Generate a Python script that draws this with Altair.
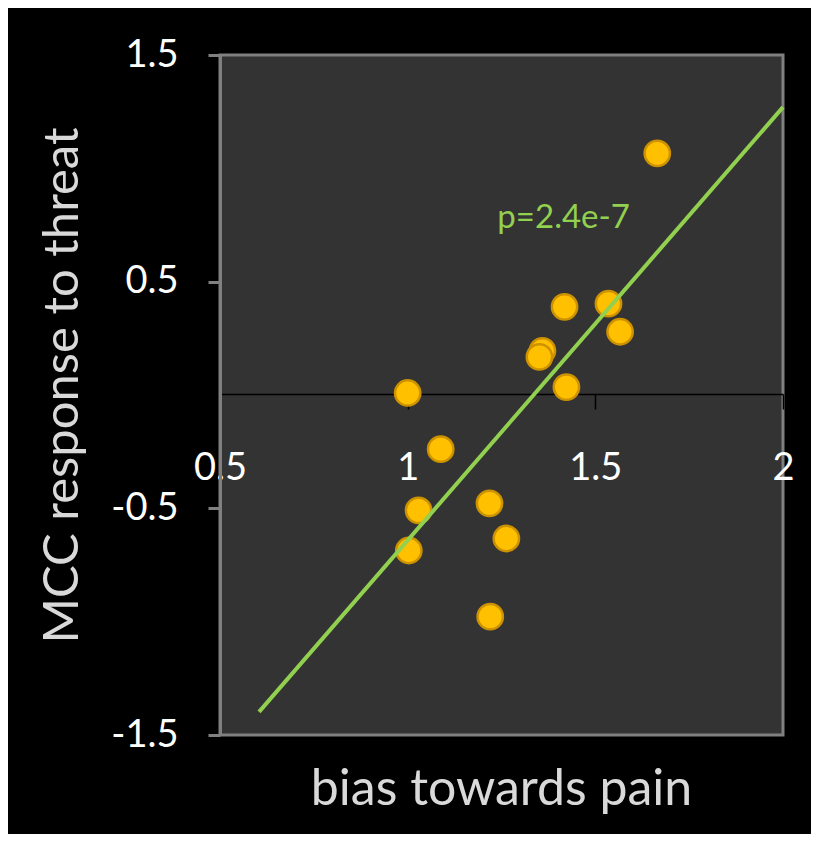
import altair as alt
import pandas as pd

# data
bias = [1.665, 1.535, 1.418, 1.566, 1.359, 1.351, 1.423, 1.000, 1.088, 1.029, 1.003, 1.218, 1.263, 1.220]
mcc = [1.066, 0.403, 0.389, 0.279, 0.195, 0.168, 0.035, 0.009, -0.239, -0.509, -0.686, -0.478, -0.633, -0.978]

fit_x = [0.604, 2.0]
fit_y = [-1.398, 1.27]

note_x = [1.239]
note_y = [0.779]
note_text = ["p=2.4e-7"]

x_ticks = [0.5, 1, 1.5, 2]
y_ticks = [-1.5, -0.5, 0.5, 1.5]

pts = pd.DataFrame({"x": bias, "y": mcc})
fit = pd.DataFrame({"x": fit_x, "y": fit_y})
note = pd.DataFrame({"x": note_x, "y": note_y, "label": note_text})

FONT = "Lato"

X = alt.X(
    "x:Q",
    scale=alt.Scale(domain=[0.5, 2], nice=False, zero=False),
    axis=alt.Axis(
        values=x_ticks,
        labelExpr="datum.value + ''",
        offset=-341,
        grid=False,
        labelFont=FONT,
        labelFontSize=38,
        labelColor="#ffffff",
        labelPadding=40,
        labelFlush=False,
        labelOverlap=False,
        tickSize=15,
        tickColor="#000000",
        tickWidth=1.5,
        domainColor="#000000",
        domainWidth=1.5,
        title="bias towards pain",
        titleFont=FONT,
        titleFontSize=50,
        titleFontWeight="normal",
        titleColor="#d9d9d9",
        titleX=281,
        titleY=410,
        titleAlign="center",
        titleBaseline="alphabetic",
    ),
)

Y = alt.Y(
    "y:Q",
    scale=alt.Scale(domain=[-1.5, 1.5], nice=False, zero=False),
    axis=alt.Axis(
        values=y_ticks,
        labelExpr="datum.value + ''",
        grid=False,
        labelFont=FONT,
        labelFontSize=38,
        labelColor="#ffffff",
        labelPadding=30,
        labelFlush=False,
        labelOverlap=False,
        labelBaseline="middle",
        tickSize=12,
        tickColor="#808080",
        tickWidth=3,
        domainColor="#808080",
        domainWidth=3,
        title="MCC response to threat",
        titleFont=FONT,
        titleFontSize=49,
        titleFontWeight="normal",
        titleColor="#d9d9d9",
        titleX=-158,
        titleY=330,
        titleAngle=-90,
        titleAlign="center",
        titleBaseline="middle",
    ),
)

points = alt.Chart(pts).mark_circle(
    size=640, opacity=1, fill="#FFC000", stroke="#CC9200", strokeWidth=2.5
).encode(x=X, y=Y)

line = alt.Chart(fit).mark_line(color="#92D050", strokeWidth=4).encode(x=X, y=Y)

text = alt.Chart(note).mark_text(
    align="left", baseline="middle", font=FONT, fontSize=33, color="#92D050"
).encode(x=X, y=Y, text="label:N")

chart = (
    alt.layer(points, line, text)
    .properties(
        width=563,
        height=680,
        background="#000000",
        padding={"left": 212, "top": 47, "right": 28, "bottom": 99},
        autosize=alt.AutoSizeParams(type="none"),
    )
    .configure_view(fill="#333333", stroke="#808080", strokeWidth=3)
)

chart.save("out.html", embed_options={"renderer": "svg", "actions": False})
